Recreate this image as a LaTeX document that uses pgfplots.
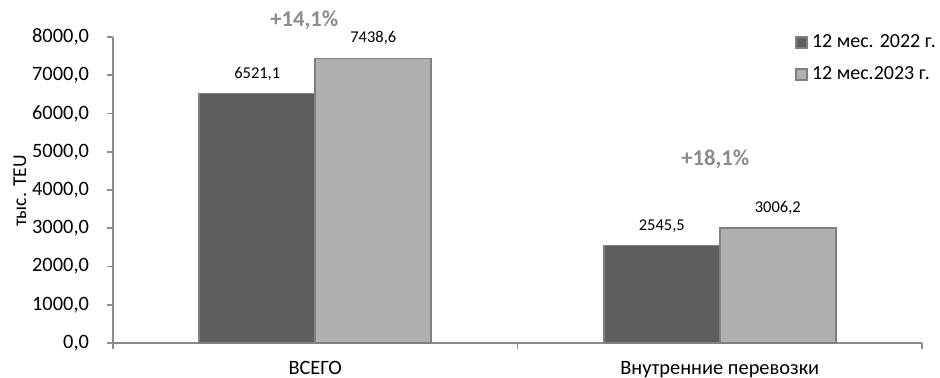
\documentclass[border=0pt]{standalone}
\usepackage{fontspec}
\setmainfont{Carlito}
\usepackage{pgfplots}
\pgfplotsset{compat=1.18}
\definecolor{darkbar}{HTML}{5F5F5F}
\definecolor{lightbar}{HTML}{B0B0B0}
\definecolor{barborder}{HTML}{808080}
\definecolor{axisgray}{HTML}{8C8C8C}
\definecolor{pcttext}{HTML}{8C8C8C}
\begin{document}
\begin{tikzpicture}
\begin{axis}[
  scale only axis,
  width=404.5pt, height=153pt,
  ybar=0pt, bar width=58pt,
  xmin=-0.5, xmax=1.5,
  ymin=0, ymax=8000,
  axis x line=bottom, axis y line=left,
  axis line style={axisgray, line width=0.9pt, -},
  xtick={0,1},
  xticklabels={ВСЕГО, Внутренние перевозки},
  major x tick style={draw=none},
  minor xtick={-0.5,0.5,1.5},
  minor x tick style={axisgray, line width=0.9pt},
  ytick={0,1000,...,8000},
  y tick style={axisgray, line width=0.9pt},
  tick align=outside,
  major tick length=3pt, minor tick length=3pt,
  /pgf/number format/assume math mode=true,
  yticklabel={\pgfmathprintnumber[fixed,precision=1,zerofill,use comma,1000 sep={}]{\tick}},
  ticklabel style={font=\fontsize{10.2pt}{12pt}\selectfont, text=black},
  xticklabel style={yshift=-2.5pt},
  yticklabel style={xshift=-5.5pt},
  ylabel={тыс. TEU},
  ylabel style={at={(axis description cs:-0.115,0.497)}, anchor=center, font=\fontsize{9.8pt}{12pt}\selectfont},
  clip=false,
  nodes near coords,
  nodes near coords style={font=\fontsize{8.25pt}{10pt}\selectfont, text=black, yshift=3pt,
     /pgf/number format/.cd, fixed, precision=1, zerofill, use comma, 1000 sep={}},
  legend style={draw=none, fill=none, at={(0.843,1.023)}, anchor=north west,
     font=\fontsize{10pt}{12pt}\selectfont, row sep=4pt, inner sep=0pt,
     /tikz/every even column/.append style={column sep=1pt}},
  legend cell align=left,
  legend image code/.code={\draw[#1] (0pt,-2.75pt) rectangle (5.5pt,2.75pt);},
]
\addplot[fill=darkbar, draw=barborder, line width=0.8pt] coordinates {(0,6521.1) (1,2545.5)};
\addplot[fill=lightbar, draw=barborder, line width=0.8pt] coordinates {(0,7438.6) (1,3006.2)};
\legend{12 мес. 2022 г., 12 мес.2023 г.}
\node[text=pcttext, font=\bfseries\fontsize{11.3pt}{13pt}\selectfont] at (axis cs:-0.027,8444) {+14,1\%};
\node[text=pcttext, font=\bfseries\fontsize{11.3pt}{13pt}\selectfont] at (axis cs:0.989,4810) {+18,1\%};
\end{axis}
\pgfresetboundingbox
\path[use as bounding box] (-56.5pt,-17pt) rectangle (413.5pt,171.5pt);
\end{tikzpicture}
\end{document}
